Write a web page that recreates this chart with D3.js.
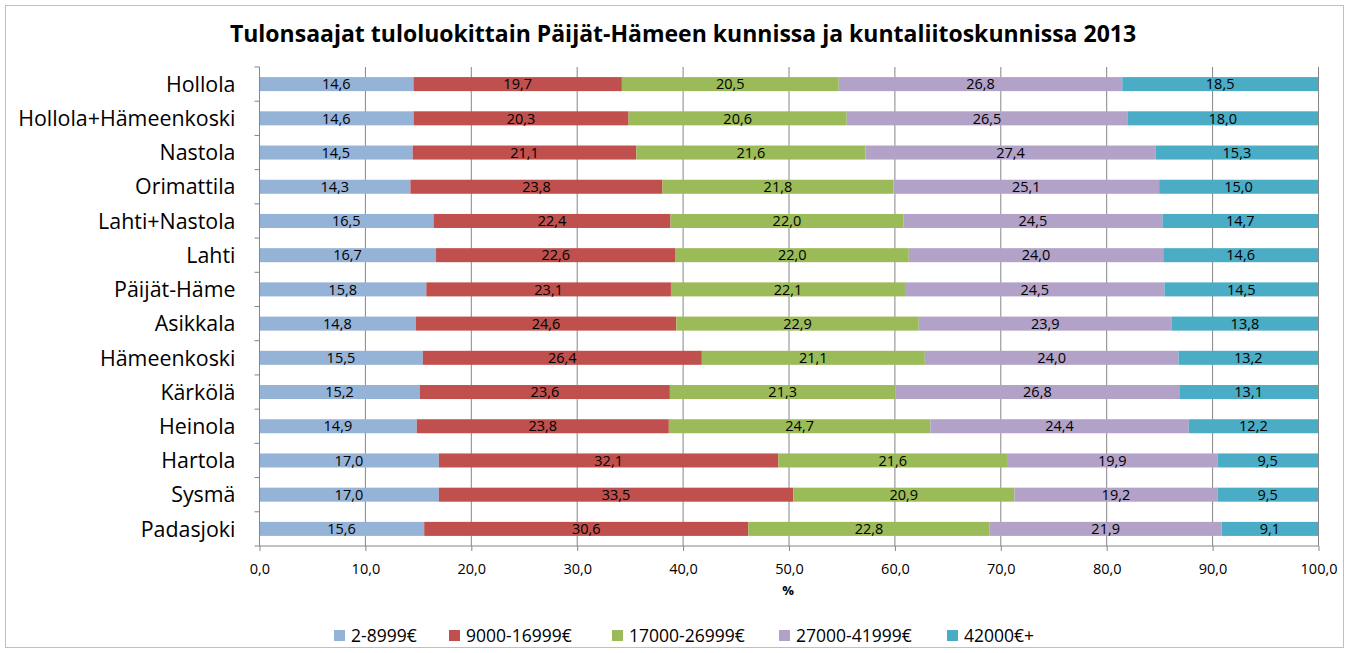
<!DOCTYPE html>
<html>
<head>
<meta charset="utf-8">
<script src="https://cdn.jsdelivr.net/npm/d3@7"></script>
<style>
  body { margin: 0; background: #fff; }
  text { font-family: "Open Sans", sans-serif; }
</style>
</head>
<body>
<svg id="chart"></svg>
<script>
const categories = ['Hollola', 'Hollola+Hämeenkoski', 'Nastola', 'Orimattila', 'Lahti+Nastola', 'Lahti',
    'Päijät-Häme', 'Asikkala', 'Hämeenkoski', 'Kärkölä', 'Heinola', 'Hartola', 'Sysmä', 'Padasjoki'];
const seriesNames = ['2-8999€', '9000-16999€', '17000-26999€', '27000-41999€', '42000€+'];
const colors = ['#95b3d7', '#c0504d', '#9bbb59', '#b3a2c7', '#4bacc6'];

const band1 = [14.6, 14.6, 14.5, 14.3, 16.5, 16.7, 15.8, 14.8, 15.5, 15.2, 14.9, 17.0, 17.0, 15.6];
const band2 = [19.7, 20.3, 21.1, 23.8, 22.4, 22.6, 23.1, 24.6, 26.4, 23.6, 23.8, 32.1, 33.5, 30.6];
const band3 = [20.5, 20.6, 21.6, 21.8, 22.0, 22.0, 22.1, 22.9, 21.1, 21.3, 24.7, 21.6, 20.9, 22.8];
const band4 = [26.8, 26.5, 27.4, 25.1, 24.5, 24.0, 24.5, 23.9, 24.0, 26.8, 24.4, 19.9, 19.2, 21.9];
const band5 = [18.5, 18.0, 15.3, 15.0, 14.7, 14.6, 14.5, 13.8, 13.2, 13.1, 12.2, 9.5, 9.5, 9.1];
const xTicks = [0, 10, 20, 30, 40, 50, 60, 70, 80, 90, 100];

const bands = [band1, band2, band3, band4, band5];
const rows = categories.map((c, i) => {
    const r = { name: c };
    seriesNames.forEach((s, j) => r[s] = bands[j][i]);
    return r;
});

const W = 1349, H = 653;
const svg = d3.select('#chart').attr('width', W).attr('height', H);

// outer chart border
svg.append('rect')
    .attr('x', 5.5).attr('y', 5.5)
    .attr('width', W - 11).attr('height', H - 11)
    .attr('fill', '#fff').attr('stroke', '#bfbfbf');

svg.append('text')
    .attr('x', 683).attr('y', 42)
    .attr('text-anchor', 'middle')
    .style('font-size', '23px').style('font-weight', 'bold')
    .text('Tulonsaajat tuloluokittain Päijät-Hämeen kunnissa ja kuntaliitoskunnissa 2013');

const x = d3.scaleLinear().domain([0, 100]).range([259, 1318]);
const y = d3.scaleBand().domain(categories).range([67, 546]).paddingInner(0.59).paddingOuter(0.295);

// gridlines
svg.append('g').selectAll('line')
    .data(xTicks)
    .enter().append('line')
    .attr('x1', d => x(d) + 0.5).attr('x2', d => x(d) + 0.5)
    .attr('y1', 67).attr('y2', 546)
    .attr('stroke', '#868686');

const stack = d3.stack().keys(seriesNames).offset(d3.stackOffsetExpand);
const stacked = stack(rows);

const fmt = v => v.toFixed(1).replace('.', ',');

const layers = svg.append('g').selectAll('g')
    .data(stacked)
    .enter().append('g')
    .attr('fill', (d, i) => colors[i]);

layers.selectAll('rect')
    .data(d => d)
    .enter().append('rect')
    .attr('x', d => x(d[0] * 100))
    .attr('width', d => x(d[1] * 100) - x(d[0] * 100))
    .attr('y', d => y(d.data.name))
    .attr('height', y.bandwidth());

layers.each(function (layer) {
    d3.select(this).selectAll('text')
        .data(layer)
        .enter().append('text')
        .attr('x', d => (x(d[0] * 100) + x(d[1] * 100)) / 2)
        .attr('y', d => y(d.data.name) + y.bandwidth() / 2)
        .attr('dy', '0.36em')
        .attr('text-anchor', 'middle')
        .attr('fill', '#000')
        .style('font-size', '14.5px')
        .text(d => fmt(d.data[layer.key]));
});

// x axis
const xAxis = d3.axisBottom(x).tickValues(xTicks).tickSize(5).tickFormat(fmt);
const gx = svg.append('g').attr('transform', 'translate(0.5,546)').call(xAxis);
gx.select('.domain').attr('stroke', '#868686').attr('d', 'M259,0H1318');
gx.selectAll('.tick line').attr('stroke', '#868686');
gx.selectAll('.tick text').attr('y', 18).style('font-size', '14.5px')
    .style('font-family', '"Open Sans", sans-serif').attr('fill', '#000');

svg.append('text')
    .attr('x', 788).attr('y', 595)
    .attr('text-anchor', 'middle')
    .style('font-size', '13px').style('font-weight', 'bold')
    .text('%');

// y axis
const gy = svg.append('g').attr('transform', 'translate(259.5,0)');
gy.append('line').attr('y1', 67).attr('y2', 546).attr('stroke', '#868686');
const step = y.step();
gy.selectAll('.tk')
    .data(d3.range(categories.length + 1))
    .enter().append('line')
    .attr('x1', -5).attr('x2', 0)
    .attr('y1', i => 67 + i * step).attr('y2', i => 67 + i * step)
    .attr('stroke', '#868686');
gy.selectAll('.lbl')
    .data(categories)
    .enter().append('text')
    .attr('x', -24)
    .attr('y', d => y(d) + y.bandwidth() / 2)
    .attr('dy', '0.36em')
    .attr('text-anchor', 'end')
    .style('font-size', '21.4px')
    .text(d => d);

// legend
const legendX = [334, 449, 612, 779, 947];
const lg = svg.append('g').selectAll('g')
    .data(seriesNames)
    .enter().append('g')
    .attr('transform', (d, i) => `translate(${legendX[i]},636)`);
lg.append('rect').attr('x', 0).attr('y', -6).attr('width', 11).attr('height', 11)
    .attr('fill', (d, i) => colors[i]);
lg.append('text').attr('x', 17).attr('dy', '0.36em')
    .style('font-size', '17.5px').text(d => d);
</script>
</body>
</html>
